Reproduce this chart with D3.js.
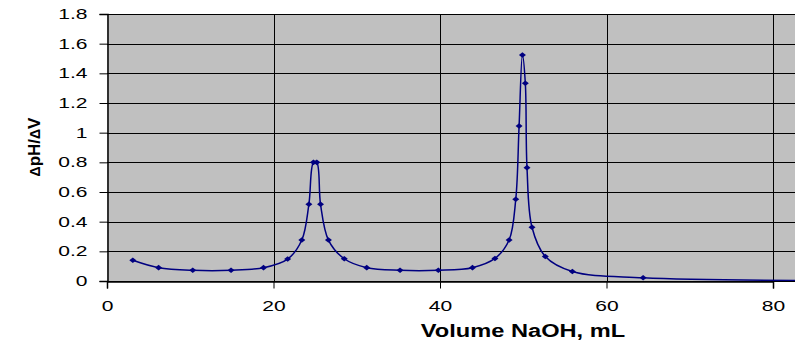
<!DOCTYPE html>
<html>
<head>
<meta charset="utf-8">
<script src="https://cdn.jsdelivr.net/npm/d3@7"></script>
<style>
  body { margin: 0; background: #fff; }
  svg { display: block; font-family: "Liberation Sans", Arial, sans-serif; }
</style>
</head>
<body>
<div id="chart"></div>
<script>
// volume of NaOH added (mL) and first derivative dpH/dV
const volume = [3.1, 6.2, 10.3, 14.9, 18.8, 21.7, 23.4, 24.25, 24.8, 25.2, 25.65, 26.6, 28.5, 31.2, 35.2, 39.8,
  43.9, 46.6, 48.3, 49.1, 49.5, 49.9, 50.25, 50.45, 51.05, 52.65, 55.9, 64.4, 88];
const dpHdV = [0.14, 0.09, 0.072, 0.072, 0.09, 0.148, 0.276, 0.517, 0.80, 0.80, 0.517, 0.276, 0.15, 0.09, 0.072, 0.072,
  0.09, 0.152, 0.276, 0.551, 1.045, 1.524, 1.333, 0.764, 0.362, 0.165, 0.064, 0.022, 0.003];
const xTicks = [0, 20, 40, 60, 80];
const yTicks = [0, 0.2, 0.4, 0.6, 0.8, 1, 1.2, 1.4, 1.6, 1.8];

const width = 795;
const height = 350;
const margin = { top: 14, right: 0, bottom: 69, left: 107 };
const plotW = width - margin.left - margin.right;
const plotH = height - margin.top - margin.bottom;

const data = volume.map((v, i) => ({ x: v, y: dpHdV[i] }));

// the old bitmap fonts are wide, stretch the glyphs horizontally
function stretch(sel, k) {
  sel.each(function () {
    const len = this.getComputedTextLength();
    d3.select(this).attr('textLength', len * k).attr('lengthAdjust', 'spacingAndGlyphs');
  });
}

// 0..80 spans 666px in the reference, so the visible end is ~82.6
const x = d3.scaleLinear().domain([0, 80]).range([0, 666]);
const y = d3.scaleLinear().domain([0, 1.8]).range([plotH, 0]);

const svg = d3.select('#chart').append('svg')
  .attr('width', width)
  .attr('height', height);

svg.append('defs').append('clipPath').attr('id', 'clip')
  .append('rect').attr('width', plotW).attr('height', plotH + 4).attr('y', -4);

const g = svg.append('g').attr('transform', `translate(${margin.left},${margin.top})`);

g.append('rect')
  .attr('width', plotW)
  .attr('height', plotH)
  .attr('fill', '#c0c0c0');

// grid
g.append('g').selectAll('line').data(yTicks).join('line')
  .attr('x1', 0).attr('x2', plotW)
  .attr('y1', d => Math.round(y(d)) + 0.5).attr('y2', d => Math.round(y(d)) + 0.5)
  .attr('stroke', '#000').attr('stroke-width', 1);

g.append('g').selectAll('line').data(xTicks.filter(d => d > 0)).join('line')
  .attr('x1', d => Math.round(x(d)) + 0.5).attr('x2', d => Math.round(x(d)) + 0.5)
  .attr('y1', 0).attr('y2', plotH)
  .attr('stroke', '#000').attr('stroke-width', 1);

// axes
const yAxis = d3.axisLeft(y).tickValues(yTicks).tickSize(8).tickPadding(12)
  .tickFormat(d3.format('~g'));
const yG = g.append('g').attr('transform', 'translate(0.5,0)').call(yAxis);

const xAxis = d3.axisBottom(x).tickValues(xTicks).tickSize(7).tickPadding(12)
  .tickFormat(d3.format('d'));
const xG = g.append('g').attr('transform', `translate(0,${plotH + 0.5})`).call(xAxis);

[yG, xG].forEach(a => {
  a.select('.domain').attr('stroke', '#000').attr('stroke-width', 1.5);
  a.selectAll('.tick line').attr('stroke', '#000');
  a.selectAll('.tick text').attr('fill', '#000').style('font-size', '14.5px')
    .call(stretch, 1.45);
});

// curve and markers
const line = d3.line()
  .x(d => x(d.x))
  .y(d => y(d.y))
  .curve(d3.curveCatmullRom.alpha(0.5));

const plot = g.append('g').attr('clip-path', 'url(#clip)');

plot.append('path')
  .datum(data)
  .attr('fill', 'none')
  .attr('stroke', '#000080')
  .attr('stroke-width', 1.5)
  .attr('d', line);

plot.selectAll('path.pt').data(data).join('path')
  .attr('class', 'pt')
  .attr('transform', d => `translate(${x(d.x)},${y(d.y)})`)
  .attr('d', 'M-3.5,0L0,-2.8L3.5,0L0,2.8Z')
  .attr('fill', '#000080');

// titles
svg.append('text')
  .attr('x', 523)
  .attr('y', 337)
  .attr('text-anchor', 'middle')
  .style('font-size', '17.5px')
  .style('font-weight', 'bold')
  .text('Volume NaOH, mL')
  .call(stretch, 1.35);

const yTitle = svg.append('text')
  .attr('transform', 'translate(40,147) rotate(-90)')
  .attr('text-anchor', 'middle')
  .style('font-size', '17px')
  .style('font-weight', 'bold');
yTitle.append('tspan').style('font-size', '14px').text('Δ');
yTitle.append('tspan').text('pH/');
yTitle.append('tspan').style('font-size', '14px').text('Δ');
yTitle.append('tspan').text('V');
</script>
</body>
</html>
